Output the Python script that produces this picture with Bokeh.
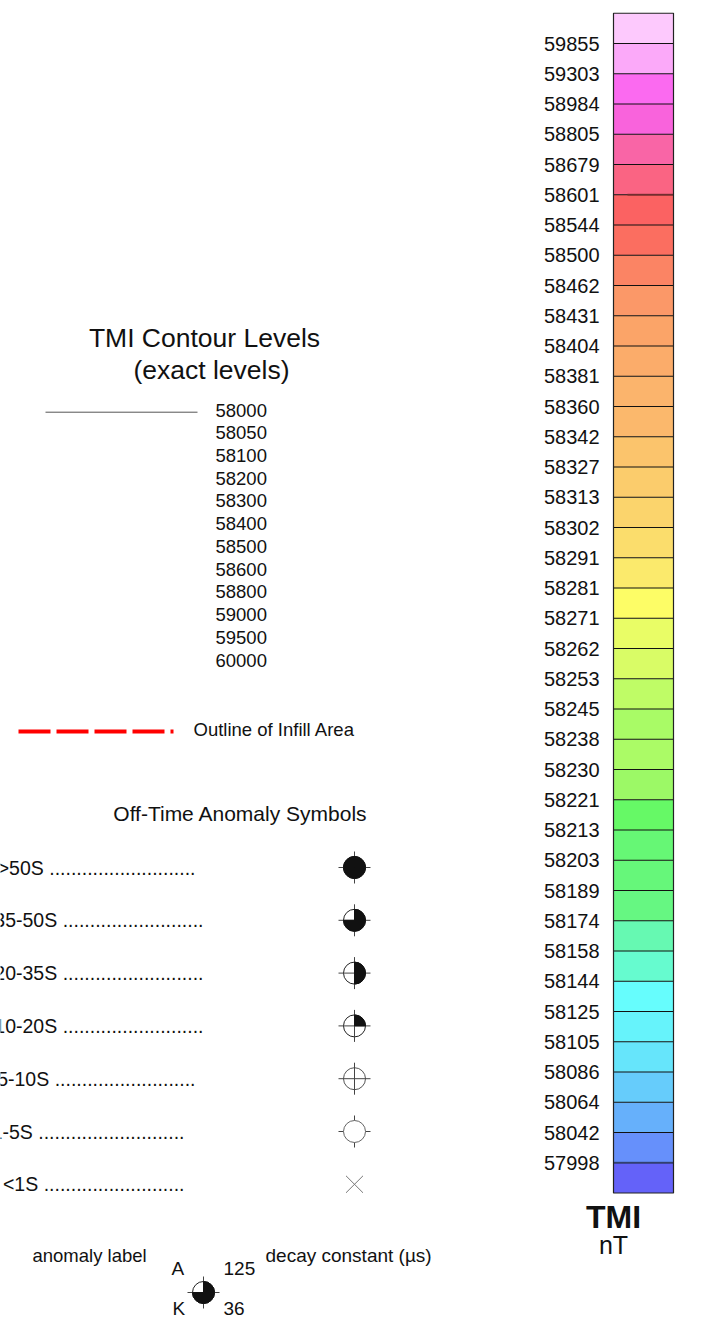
import math
from bokeh.plotting import figure
from bokeh.models import Range1d
from bokeh.core.properties import value
from bokeh.embed import file_html
from bokeh.resources import INLINE

# ---------------- data ----------------
cb_labels = ["59855", "59303", "58984", "58805", "58679", "58601", "58544", "58500",
             "58462", "58431", "58404", "58381", "58360", "58342", "58327", "58313",
             "58302", "58291", "58281", "58271", "58262", "58253", "58245", "58238",
             "58230", "58221", "58213", "58203", "58189", "58174", "58158", "58144",
             "58125", "58105", "58086", "58064", "58042", "57998"]  # top -> bottom
cb_colors = ["#FDC9FD", "#FBA9F9", "#FB6AF0", "#F963DC", "#F965A6", "#FA6483",
             "#FB6262", "#FB6E60", "#FB8464", "#FB9868", "#FBA468", "#FBAC6A",
             "#FBB46C", "#FBB86C", "#FBC46C", "#FBCC6C", "#FBD46C", "#FBDD6C",
             "#FBEA6C", "#FDFD66", "#E9FD66", "#D9FC66", "#BFFC66", "#A9FB66",
             "#ABFB66", "#9CF966", "#66F966", "#66F775", "#66F77A", "#66F782",
             "#66F9B2", "#66FBCF", "#66FDFD", "#66F3FB", "#66E5FB", "#66CCFB",
             "#66B0FB", "#6690FB", "#6462F9"]  # top -> bottom (39 bins)
contour_levels = ["58000", "58050", "58100", "58200", "58300", "58400",
                  "58500", "58600", "58800", "59000", "59500", "60000"]
anomaly_classes = [">50S", "35-50S", "20-35S", "10-20S", "5-10S", "1-5S", "<1S"]
anomaly_quarters = [4, 3, 2, 1, 0, 0, 0]
anomaly_dots = [27, 26, 26, 26, 26, 27, 26]

FONT = value("Liberation Sans")
MID = "middle"

W, H = 710, 1316
p = figure(width=W, height=H, output_backend="svg", toolbar_location=None,
           x_range=Range1d(0, W), y_range=Range1d(-H, 0),
           x_axis_location=None, y_axis_location=None, min_border=0,
           background_fill_color="white", border_fill_color="white")
p.outline_line_color = None
p.xgrid.visible = False
p.ygrid.visible = False

# colour bar uses its own bin-index scale
nb = len(cb_colors)
STEP = 30.25
CB_BOTTOM = 1192.5
p.extra_y_ranges = {"cb": Range1d((CB_BOTTOM - H) / STEP, CB_BOTTOM / STEP)}
bins_bottom = list(range(nb))
bins_top = [b + 1 for b in bins_bottom]
colors_bottom_up = cb_colors[::-1]
p.quad(left=613, right=673, bottom=bins_bottom, top=bins_top,
       fill_color=colors_bottom_up, line_color=None, y_range_name="cb")
bounds = list(range(1, nb))
p.segment(x0=613, x1=673, y0=bounds, y1=bounds, line_color="#111111",
          line_width=1.2, y_range_name="cb")
p.segment(x0=[613, 627], x1=[673, 673], y0=[1, 33], y1=[1, 33],
          line_color=["#334477", "#7a2e2e"], line_width=2.2, line_alpha=0.8,
          y_range_name="cb")
p.quad(left=613, right=673, bottom=0, top=nb, fill_color=None,
       line_color="#222222", line_width=1.2, y_range_name="cb")
label_pos = [nb - 1 - k for k in range(len(cb_labels))]
p.text(x=599, y=label_pos, text=cb_labels, text_font=FONT,
       text_font_size=value("20px"), text_align="right",
       text_baseline=MID, text_color="#111111", y_range_name="cb")
p.text(x=[613], y=[-1216], text=["TMI"], text_font=FONT,
       text_font_size=value("32px"), text_font_style="bold",
       text_align="center", text_baseline=MID, text_color="#111111")
p.text(x=[613], y=[-1244], text=["nT"], text_font=FONT,
       text_font_size=value("25px"), text_align="center", text_baseline=MID,
       text_color="#111111")

# contour levels block
p.text(x=[204, 211], y=[-337, -369], text=["TMI Contour Levels", "(exact levels)"],
       text_font=FONT, text_font_size=value("26.5px"), text_align="center",
       text_baseline=MID, text_color="#111111")
p.segment(x0=[45], x1=[197], y0=[-411.7], y1=[-411.7], line_color="#555555",
          line_width=1)
lev_y = [-(409.5 + 22.73 * k) for k in range(len(contour_levels))]
p.text(x=215, y=lev_y, text=contour_levels, text_font=FONT,
       text_font_size=value("18.5px"), text_baseline=MID, text_color="#111111")

# infill outline
p.line(x=[18, 173], y=[-731, -731], line_color="#FF0000", line_width=4,
       line_dash="32 6")
p.text(x=[193], y=[-728.5], text=["Outline of Infill Area"], text_font=FONT,
       text_font_size=value("18.5px"), text_baseline=MID, text_color="#111111")

# off-time anomaly symbols
p.text(x=[240], y=[-813], text=["Off-Time Anomaly Symbols"], text_font=FONT,
       text_font_size=value("21px"), text_align="center", text_baseline=MID,
       text_color="#111111")

sx = 354
sy = [-(867 + 52.8 * k) for k in range(len(anomaly_classes))]
label_end = [195, 203, 203, 203, 195, 184, 184]
label_txt = [c + " " + "." * d for c, d in zip(anomaly_classes, anomaly_dots)]
p.text(x=label_end, y=sy, text=label_txt, text_font=FONT,
       text_font_size=value("19.5px"), text_align="right", text_baseline=MID,
       text_color="#111111")

# example symbol (anomaly label / decay / conductance)
ex_x, ex_y, ex_q = 203, -1292, 3

R = 11
L = 16
cx = [sx] * 6 + [ex_x]
cy = sy[:6] + [ex_y]
under_x = [sx] * 5 + [ex_x]
under_y = sy[:5] + [ex_y]
p.circle(x=under_x, y=under_y, radius=R, fill_color="white",
         line_color=["#222222"] * 4 + ["#555555"] + ["#222222"], line_width=1)
p.segment(x0=[x - L for x in cx], x1=[x + L for x in cx], y0=cy, y1=cy,
          line_color="#444444", line_width=1)
p.segment(x0=cx, x1=cx, y0=[y - L for y in cy], y1=[y + L for y in cy],
          line_color="#444444", line_width=1)
p.circle(x=[sx], y=[sy[5]], radius=R, fill_color="white",
         line_color="#666666", line_width=1)
wx, wy, ws, we = [], [], [], []
for q, y, x in zip(anomaly_quarters + [ex_q], sy + [ex_y], [sx] * 7 + [ex_x]):
    if q > 0:
        start = math.pi / 2 - q * math.pi / 2
        wx.append(x)
        wy.append(y)
        ws.append(start)
        we.append(start + q * math.pi / 2 - (1e-4 if q == 4 else 0.0))
p.wedge(x=wx, y=wy, radius=R, start_angle=ws, end_angle=we,
        fill_color="#111111", line_color="#111111", line_width=1)
p.scatter(x=[sx], y=[sy[6]], marker="x", size=24, line_color="#777777",
          line_width=1)

p.text(x=[32], y=[-1255], text=["anomaly label"], text_font=FONT,
       text_font_size=value("18.5px"), text_baseline=MID, text_color="#111111")
p.text(x=[265], y=[-1255], text=["decay constant (\u00b5s)"], text_font=FONT,
       text_font_size=value("19px"), text_baseline=MID, text_color="#111111")
p.text(x=[171, 223, 172, 223], y=[-1268, -1268, -1307.5, -1307.5],
       text=["A", "125", "K", "36"], text_font=FONT,
       text_font_size=value("19px"), text_baseline=MID, text_color="#111111")
p.text(x=[155, 252], y=[-1323, -1323],
       text=["thick/thin source", "off-time conductance (S)"], text_font=FONT,
       text_font_size=value("19px"), text_align=["right", "left"],
       text_baseline=MID, text_color="#111111")

open("out.html", "w").write(file_html(p, INLINE))
